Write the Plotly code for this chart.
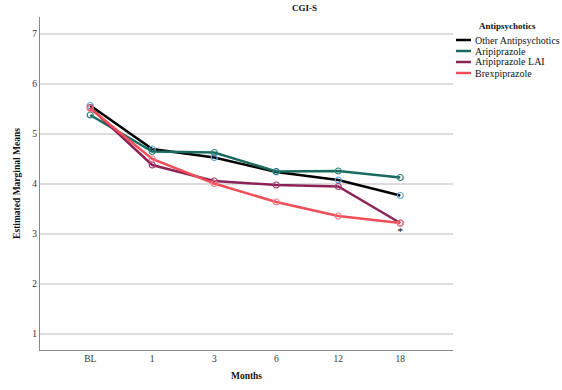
import plotly.graph_objects as go

months = ["BL", "1", "3", "6", "12", "18"]
series_names = ["Other Antipsychotics", "Aripiprazole", "Aripiprazole LAI", "Brexpiprazole"]
other = [5.56, 4.69, 4.52, 4.23, 4.07, 3.76]
aripiprazole = [5.37, 4.64, 4.62, 4.24, 4.25, 4.12]
aripiprazole_lai = [5.52, 4.37, 4.05, 3.97, 3.94, 3.21]
brexpiprazole = [5.50, 4.49, 4.00, 3.63, 3.35, 3.21]
values = [other, aripiprazole, aripiprazole_lai, brexpiprazole]
asterisk_month = "18"
asterisk_value = 3.02

line_colors = ["#000000", "#1b6a60", "#8c2458", "#f04e58"]
marker_colors = ["#5aa7dc", "#2a7f73", "#a23a6c", "#f47a85"]

FONT = "Times New Roman, Liberation Serif, serif"

# plot area in pixels (for paper-coordinate conversion of legend/title)
L, R, T, B = 40, 453, 17, 350
def px(x):
    return (x - L) / (R - L)
def py(y):
    return (B - y) / (B - T)

fig = go.Figure()
for name, vals, lc, mc in zip(series_names, values, line_colors, marker_colors):
    fig.add_trace(go.Scatter(
        x=months, y=vals, name=name, mode="lines+markers", showlegend=False,
        line=dict(color=lc, width=2.5),
        marker=dict(symbol="circle-open", size=6, color=mc, line=dict(width=1.2, color=mc)),
    ))

# significance asterisk drawn as a text trace
fig.add_trace(go.Scatter(
    x=[asterisk_month], y=[asterisk_value], mode="text", text=["*"],
    textposition="middle center", showlegend=False, hoverinfo="skip",
    textfont=dict(family=FONT, size=11, color="#000"),
))

annotations = [
    dict(text="<b>CGI-S</b>", x=px(290), y=py(8), xref="paper", yref="paper",
         xanchor="left", yanchor="middle", showarrow=False,
         font=dict(family=FONT, size=9, color="#111")),
    dict(text="<b>Antipsychotics</b>", x=px(507), y=py(26), xref="paper", yref="paper",
         xanchor="center", yanchor="middle", showarrow=False,
         font=dict(family=FONT, size=9, color="#111")),
]
shapes = []
legend_y = [40, 51, 62, 73]
for name, lc, yy in zip(series_names, line_colors, legend_y):
    shapes.append(dict(type="line", xref="paper", yref="paper",
                       x0=px(456), x1=px(471), y0=py(yy), y1=py(yy),
                       line=dict(color=lc, width=2.5)))
    annotations.append(dict(text=name, x=px(473), y=py(yy), xref="paper", yref="paper",
                            xanchor="left", yanchor="middle", showarrow=False,
                            font=dict(family=FONT, size=10, color="#111")))

fig.update_layout(
    width=562, height=390,
    margin=dict(l=L, r=562 - R, t=T, b=390 - B, autoexpand=False),
    paper_bgcolor="white", plot_bgcolor="white",
    font=dict(family=FONT, size=10, color="#222"),
    showlegend=False,
    annotations=annotations,
    shapes=shapes,
)

fig.update_xaxes(
    type="category", range=[-0.81, 5.85],
    showgrid=False, showline=True, linecolor="#888", linewidth=1,
    ticks="", tickfont=dict(family=FONT, size=9.5, color="#333"),
    title=dict(text="<b>Months</b>", font=dict(family=FONT, size=9.5, color="#111"), standoff=8),
)
fig.update_yaxes(
    range=[0.67, 7.33], tickvals=[1, 2, 3, 4, 5, 6, 7],
    showgrid=True, gridcolor="#dcdcdc", gridwidth=1.5,
    showline=True, linecolor="#888", linewidth=1, zeroline=False,
    ticks="", tickfont=dict(family=FONT, size=9.5, color="#333"),
    title=dict(text="<b>Estimated Marginal Means</b>", font=dict(family=FONT, size=9.5, color="#111"), standoff=10),
)

fig.write_html("out.html", config={"displayModeBar": False},
               post_script="document.body.style.margin='0';document.body.style.overflow='hidden';")
